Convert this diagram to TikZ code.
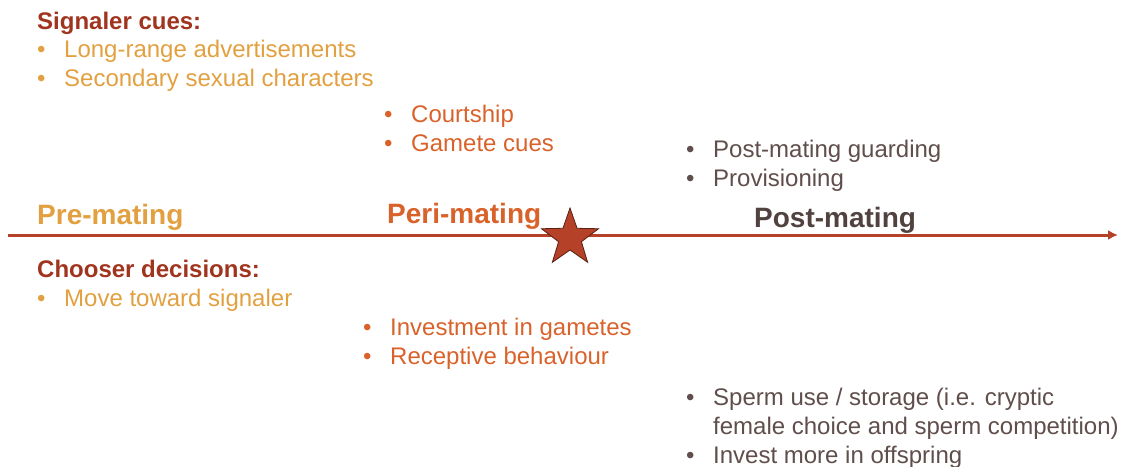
\documentclass[tikz,border=0pt]{standalone}
\usepackage{fontspec}
\setmainfont{Liberation Sans}
\usetikzlibrary{shapes.geometric, arrows.meta}

\definecolor{cuered}{RGB}{160,52,30}
\definecolor{pregold}{RGB}{226,160,64}
\definecolor{periorange}{RGB}{217,98,43}
\definecolor{postgray}{RGB}{95,78,75}
\definecolor{axisred}{RGB}{180,65,40}

\newcommand{\bpoint}{\makebox[27pt][l]{\textbullet}}

\begin{document}
\begin{tikzpicture}[x=1pt, y=-1pt,
    every node/.style={inner sep=0, anchor=base west},
    head/.style={font=\fontsize{24}{29}\selectfont\bfseries},
    list/.style={align=left, font=\fontsize{24}{29}\selectfont},
    phase/.style={font=\fontsize{28}{34}\selectfont\bfseries}]
  \useasboundingbox (0,0) rectangle (1121,466);

  % above the line (lists sit on their last baseline)
  \node[head, cuered] (signaler) at (37,29) {Signaler cues:};
  \node[list, pregold] (signalercues) at (37,86)
    {\bpoint Long-range advertisements\\ \bpoint Secondary sexual characters};
  \node[list, periorange] (pericues) at (384,151)
    {\bpoint Courtship\\ \bpoint Gamete cues};
  \node[list, postgray] (postcues) at (686,186)
    {\bpoint Post-mating guarding\\ \bpoint Provisioning};

  % phases
  \node[phase, pregold] (pre) at (37,224) {Pre-mating};
  \node[phase, periorange] (peri) at (387,223) {Peri-mating};
  \node[phase, postgray!85!black] (post) at (754,227) {Post-mating};

  \coordinate (start) at (8,235);
  \coordinate (end) at (1118,235);
  \draw[axisred, line width=3pt, -{Latex[length=10pt, width=10pt]}] (start) -- (end);
  \node[star, star points=5, star point ratio=2.5, minimum size=60pt,
        anchor=center, fill=axisred, draw=axisred!50!black, line width=0.8pt]
        (mating) at (570,238) {};

  % below the line
  \node[head, cuered] (chooser) at (37,277) {Chooser decisions:};
  \node[list, pregold] (chooserdec) at (37,306) {\bpoint Move toward signaler};
  \node[list, periorange] (peridec) at (363,364)
    {\bpoint Investment in gametes\\ \bpoint Receptive behaviour};
  \node[list, postgray] (postdec) at (686,463)
    {\bpoint Sperm use / storage (i.e. cryptic\\
     \hspace*{27pt}female choice and sperm competition)\\
     \bpoint Invest more in offspring};
\end{tikzpicture}
\end{document}
